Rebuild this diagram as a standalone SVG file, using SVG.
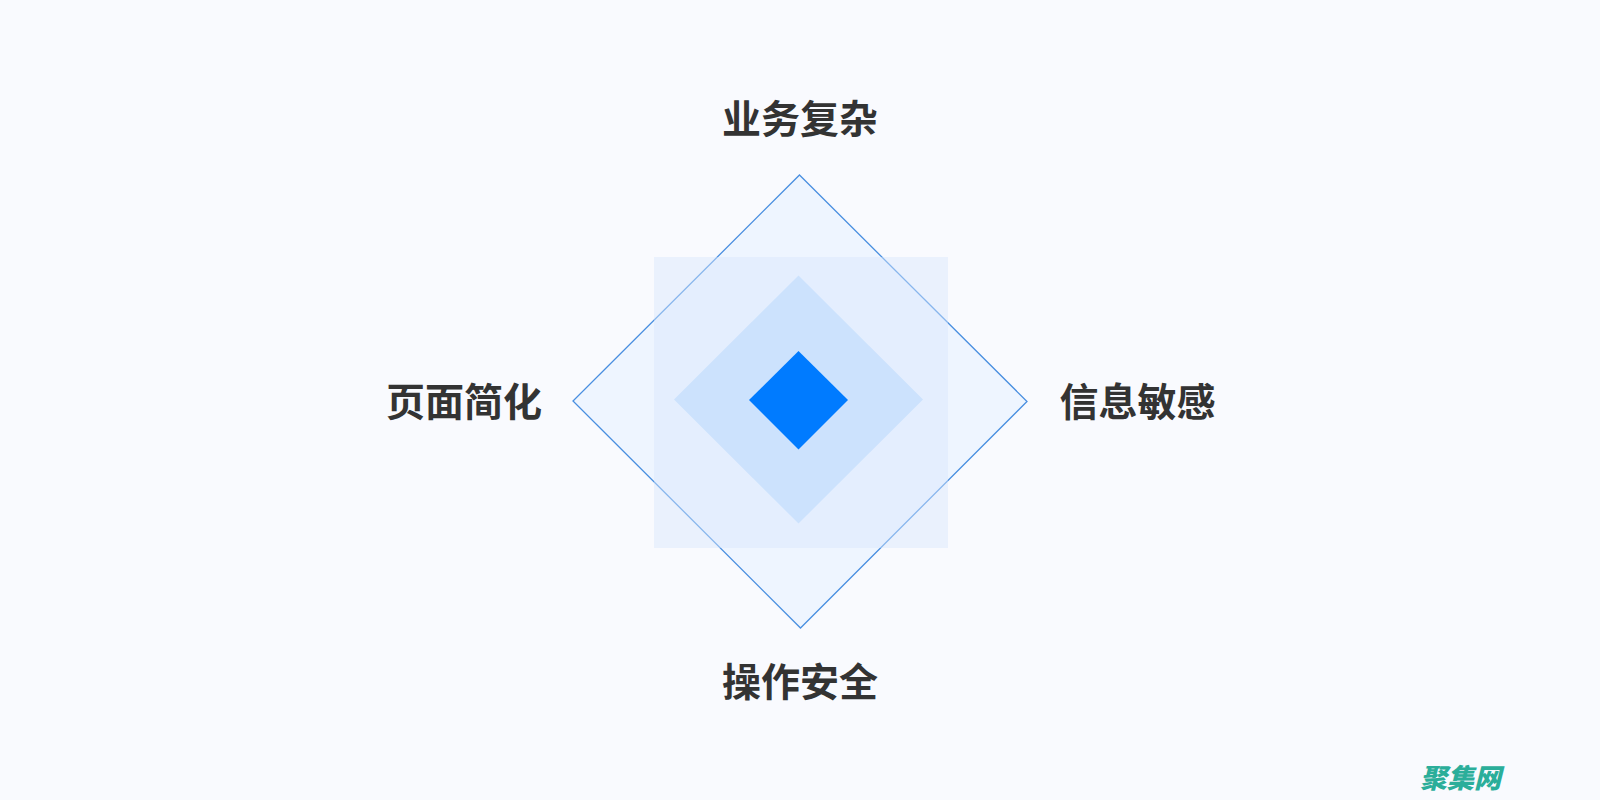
<svg xmlns="http://www.w3.org/2000/svg" width="1600" height="800" viewBox="0 0 1600 800">
<style>
.lbl{font-family:"Noto Sans CJK SC","Noto Sans",sans-serif;font-size:39px;font-weight:700;fill:#333333;text-anchor:middle}
.wm{font-family:"Noto Sans CJK SC",sans-serif;font-size:27px;font-weight:900;font-style:italic;fill:#2BAE9A}
</style>
<rect x="0" y="0" width="1600" height="800" fill="#F9FAFE"/>
<g id="outer-diamond">
<polygon points="799.5,175 1027,401.5 800.5,628 573,401" fill="#EEF5FF" stroke="#4A8FE0" stroke-width="1.3"/>
</g>
<g id="square">
<rect x="654" y="257" width="294" height="291" fill="#D6E7FC" fill-opacity="0.45"/>
</g>
<g id="middle-diamond">
<polygon points="798.5,275.5 923,399.5 798.5,523.5 674,399.5" fill="#CCE2FD"/>
</g>
<g id="inner-diamond">
<polygon points="798.5,351 848,400 798.5,449.5 749,400" fill="#007BFF"/>
</g>
<g id="connectors"></g>
<g id="label-top"><text class="lbl" x="800" y="133">业务复杂</text></g>
<g id="label-left"><text class="lbl" x="464" y="416">页面简化</text></g>
<g id="label-right"><text class="lbl" x="1137.5" y="416">信息敏感</text></g>
<g id="label-bottom"><text class="lbl" x="800" y="696">操作安全</text></g>
<g id="watermark"><text class="wm" x="1420" y="788">聚集网</text></g>
</svg>
